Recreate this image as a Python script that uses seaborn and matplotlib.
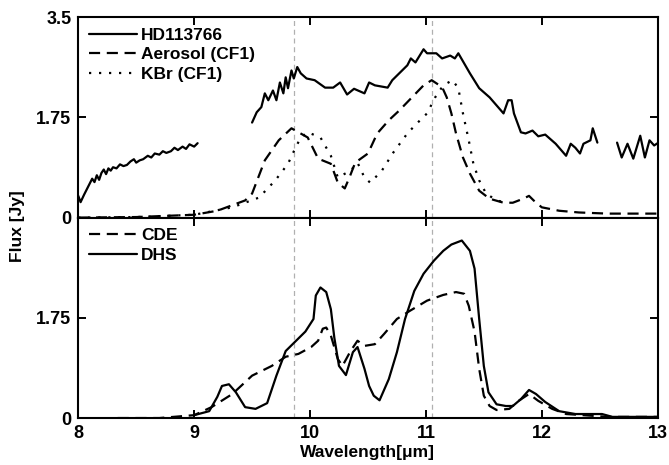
import numpy as np
import pandas as pd
import seaborn as sns
import matplotlib.pyplot as plt

# HD113766 observed spectrum (three pieces with gaps)
hd_x1 = [8.00, 8.02, 8.05, 8.08, 8.10, 8.12, 8.14, 8.16, 8.18, 8.20, 8.22, 8.24, 8.26, 8.28,
         8.30, 8.33, 8.36, 8.39, 8.42, 8.45, 8.48, 8.50, 8.53, 8.56, 8.60, 8.63, 8.66, 8.70,
         8.73, 8.76, 8.80, 8.83, 8.86, 8.90, 8.93, 8.96, 9.00, 9.03]
hd_y1 = [0.38, 0.27, 0.40, 0.52, 0.60, 0.68, 0.62, 0.74, 0.66, 0.78, 0.84, 0.76, 0.86, 0.82,
         0.88, 0.86, 0.93, 0.90, 0.92, 0.98, 1.02, 0.96, 1.00, 1.02, 1.08, 1.05, 1.12, 1.10,
         1.16, 1.13, 1.16, 1.22, 1.18, 1.24, 1.20, 1.28, 1.24, 1.30]
hd_x2 = [9.50, 9.54, 9.58, 9.61, 9.64, 9.68, 9.71, 9.74, 9.77, 9.79, 9.81, 9.84, 9.86, 9.89,
         9.92, 9.97, 10.04, 10.13, 10.20, 10.26, 10.32, 10.38, 10.47, 10.51, 10.56, 10.67,
         10.71, 10.84, 10.87, 10.91, 10.98, 11.01, 11.09, 11.14, 11.21, 11.25, 11.28, 11.38,
         11.46, 11.55, 11.67, 11.71, 11.74, 11.76, 11.82, 11.86, 11.92, 11.97, 12.03, 12.12,
         12.21, 12.25, 12.29, 12.33, 12.36, 12.42, 12.44, 12.48]
hd_y2 = [1.66, 1.84, 1.93, 2.17, 2.05, 2.22, 2.05, 2.36, 2.17, 2.45, 2.26, 2.57, 2.43, 2.63,
         2.52, 2.43, 2.40, 2.27, 2.27, 2.36, 2.15, 2.25, 2.17, 2.36, 2.31, 2.27,
         2.40, 2.66, 2.78, 2.71, 2.94, 2.87, 2.87, 2.78, 2.83, 2.78, 2.87, 2.52,
         2.26, 2.10, 1.82, 2.05, 2.05, 1.82, 1.49, 1.47, 1.52, 1.42, 1.45, 1.29,
         1.08, 1.29, 1.22, 1.12, 1.29, 1.35, 1.56, 1.31]
hd_x3 = [12.65, 12.69, 12.74, 12.79, 12.85, 12.89, 12.93, 12.97, 13.00]
hd_y3 = [1.31, 1.05, 1.29, 1.03, 1.43, 1.05, 1.35, 1.26, 1.30]

# Aerosol (CF1)
aer_x = [8.00, 8.50, 9.00, 9.20, 9.44, 9.50, 9.61, 9.73, 9.84, 9.98, 10.07, 10.18, 10.24,
         10.30, 10.34, 10.39, 10.50, 10.58, 10.68, 10.77, 10.87, 10.98, 11.05, 11.14, 11.18,
         11.22, 11.26, 11.32, 11.38, 11.46, 11.55, 11.67, 11.75, 11.84, 11.89, 11.93, 12.00,
         12.15, 12.32, 12.57, 13.00]
aer_y = [0.00, 0.01, 0.05, 0.12, 0.30, 0.42, 1.00, 1.35, 1.56, 1.40, 1.03, 0.94, 0.61,
         0.51, 0.70, 0.96, 1.12, 1.47, 1.70, 1.87, 2.08, 2.31, 2.40, 2.28, 2.10,
         1.82, 1.47, 1.05, 0.77, 0.47, 0.33, 0.26, 0.26, 0.33, 0.38, 0.30, 0.18,
         0.12, 0.09, 0.07, 0.07]

# KBr (CF1)
kbr_x = [8.00, 8.50, 9.00, 9.33, 9.56, 9.70, 9.81, 9.87, 9.92, 9.98, 10.09, 10.18, 10.24,
         10.35, 10.41, 10.47, 10.52, 10.62, 10.72, 10.84, 10.92, 11.01, 11.08, 11.15, 11.23,
         11.28, 11.32, 11.37, 11.41, 11.46, 11.52, 11.61, 11.70]
kbr_y = [0.00, 0.01, 0.05, 0.18, 0.35, 0.65, 0.94, 1.20, 1.40, 1.49, 1.40, 1.08, 0.70,
         0.82, 0.96, 0.70, 0.61, 0.82, 1.14, 1.47, 1.64, 1.82, 2.10, 2.31, 2.40,
         2.26, 1.82, 1.35, 0.94, 0.65, 0.42, 0.30, 0.26]

# CDE model
cde_x = [8.34, 8.70, 9.00, 9.15, 9.33, 9.50, 9.67, 9.79, 9.90, 10.01, 10.07, 10.11, 10.14,
         10.18, 10.24, 10.28, 10.35, 10.41, 10.47, 10.56, 10.64, 10.75, 10.86, 11.01, 11.15,
         11.26, 11.33, 11.37, 11.42, 11.46, 11.50, 11.55, 11.61, 11.72, 11.80, 11.89, 11.97,
         12.09, 12.21, 12.43, 12.57, 13.00]
cde_y = [0.00, 0.00, 0.05, 0.19, 0.42, 0.74, 0.91, 1.07, 1.12, 1.24, 1.35, 1.56, 1.58,
         1.44, 1.03, 0.91, 1.17, 1.35, 1.26, 1.29, 1.47, 1.73, 1.87, 2.05, 2.15,
         2.20, 2.17, 1.96, 1.51, 0.86, 0.39, 0.21, 0.14, 0.16, 0.30, 0.42, 0.30,
         0.16, 0.07, 0.04, 0.02, 0.02]

# DHS model
dhs_x = [9.00, 9.13, 9.20, 9.24, 9.30, 9.36, 9.44, 9.53, 9.63, 9.71, 9.79, 9.87, 9.96,
         10.03, 10.05, 10.09, 10.14, 10.18, 10.21, 10.25, 10.31, 10.37, 10.41, 10.47, 10.51,
         10.55, 10.60, 10.68, 10.75, 10.82, 10.90, 10.98, 11.07, 11.15, 11.22, 11.31, 11.38,
         11.42, 11.46, 11.50, 11.54, 11.61, 11.69, 11.75, 11.82, 11.89, 11.95, 12.03, 12.15,
         12.29, 12.52, 12.61, 13.00]
dhs_y = [0.05, 0.12, 0.37, 0.56, 0.59, 0.45, 0.19, 0.16, 0.26, 0.74, 1.17, 1.33, 1.51,
         1.73, 2.14, 2.28, 2.20, 1.90, 1.40, 0.91, 0.75, 1.15, 1.24, 0.86, 0.56,
         0.39, 0.31, 0.68, 1.15, 1.73, 2.22, 2.52, 2.75, 2.92, 3.03, 3.10, 2.92,
         2.61, 1.73, 0.91, 0.45, 0.24, 0.21, 0.21, 0.33, 0.49, 0.42, 0.28, 0.12,
         0.07, 0.07, 0.02, 0.02]

band_lines = [9.86, 11.05]

sns.set_style("ticks", {'axes.edgecolor': 'black', 'text.color': 'black',
                        'xtick.color': 'black', 'ytick.color': 'black',
                        'axes.labelcolor': 'black'})
plt.rcParams['font.family'] = ['Liberation Sans', 'DejaVu Sans']
plt.rcParams['font.weight'] = 'bold'

fs_tick = 13
fs_text = 12.5

fig, (ax1, ax2) = plt.subplots(2, 1, figsize=(6.69, 4.65), dpi=100, sharex=True)
fig.subplots_adjust(left=0.117, right=0.983, top=0.963, bottom=0.101, hspace=0)

lw = 1.6
sns.lineplot(x=hd_x1, y=hd_y1, ax=ax1, color='k', lw=lw, label='HD113766')
sns.lineplot(x=hd_x2, y=hd_y2, ax=ax1, color='k', lw=lw)
sns.lineplot(x=hd_x3, y=hd_y3, ax=ax1, color='k', lw=lw)
sns.lineplot(x=aer_x, y=aer_y, ax=ax1, color='k', lw=lw, ls=(0, (5, 3)), label='Aerosol (CF1)')
sns.lineplot(x=kbr_x, y=kbr_y, ax=ax1, color='k', lw=lw, ls=(0, (1, 3.5)), label='KBr (CF1)')

sns.lineplot(x=cde_x, y=cde_y, ax=ax2, color='k', lw=lw, ls=(0, (5, 3)), label='CDE')
sns.lineplot(x=dhs_x, y=dhs_y, ax=ax2, color='k', lw=lw, label='DHS')

for ax in (ax1, ax2):
    for b in band_lines:
        ax.axvline(b, color='#b0b0b0', lw=0.9, ls=(0, (4, 3)), zorder=0)
    ax.set_xlim(8, 13)
    ax.set_ylim(0, 3.5)
    ax.tick_params(direction='in', top=True, right=True, length=6, width=1.4,
                   labelsize=fs_tick, pad=5, colors='black')
    for s in ax.spines.values():
        s.set_linewidth(1.5)
        s.set_color('black')
    ax.set_ylabel('')
    ax.legend(loc='upper left', frameon=False, handlelength=2.8, handletextpad=0.2,
              labelspacing=0.25, borderaxespad=0.3, borderpad=0.3,
              prop={'weight': 'bold', 'size': fs_text})

ax1.set_yticks([0, 1.75, 3.5])
ax1.set_yticklabels(['0', '1.75', '3.5'])
ax2.set_yticks([0, 1.75])
ax2.set_yticklabels(['0', '1.75'])
ax2.set_xticks([8, 9, 10, 11, 12, 13])
ax1.tick_params(labelbottom=False)
ax2.set_xlabel('Wavelength[\u03bcm]', fontweight='bold', fontsize=fs_text, labelpad=2,
               color='black')
fig.text(0.026, 0.514, 'Flux [Jy]', rotation=90, va='center', ha='center',
         fontweight='bold', fontsize=fs_text, color='black')

plt.savefig('out.png', dpi=100)
